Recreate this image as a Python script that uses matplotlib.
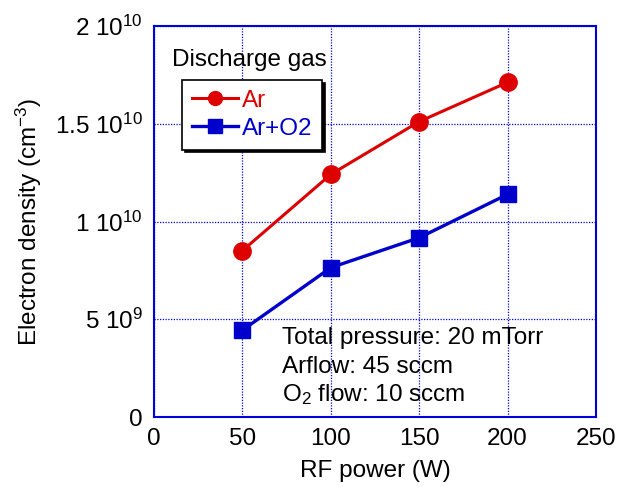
import matplotlib
matplotlib.use("Agg")
import matplotlib.pyplot as plt
from matplotlib.ticker import FixedLocator, FixedFormatter

plt.rcParams['font.family'] = ['Liberation Sans', 'DejaVu Sans']
plt.rcParams['mathtext.fontset'] = 'custom'
plt.rcParams['mathtext.rm'] = 'Liberation Sans'
plt.rcParams['mathtext.it'] = 'Liberation Sans'

power = [50, 100, 150, 200]
ar = [8.51e9, 12.41e9, 15.11e9, 17.12e9]
ar_o2 = [4.44e9, 7.64e9, 9.17e9, 11.39e9]
yticks = [0, 5e9, 1e10, 1.5e10, 2e10]
ytick_labels = ['0', r'5 $\mathregular{10^{9}}$', r'1 $\mathregular{10^{10}}$',
                r'1.5 $\mathregular{10^{10}}$', r'2 $\mathregular{10^{10}}$']
xticks = [0, 50, 100, 150, 200, 250]

FS = 17.5

fig = plt.figure(figsize=(6.28, 4.87), dpi=100)
ax = fig.add_axes([154/628, 1-417/487, (596-154)/628, (417-26)/487])

red = '#dd0000'
blue = '#0000cc'
l1, = ax.plot(power, ar, '-o', color=red, lw=2.2, ms=12.5, label='Ar', zorder=3)
l2, = ax.plot(power, ar_o2, '-s', color=blue, lw=2.4, ms=12, label='Ar+O2', zorder=3)

ax.set_xlim(0, 250)
ax.set_ylim(0, 2e10)
ax.xaxis.set_major_locator(FixedLocator(xticks))
ax.yaxis.set_major_locator(FixedLocator(yticks))
ax.yaxis.set_major_formatter(FixedFormatter(ytick_labels))
ax.tick_params(labelsize=FS, length=0, pad=8, colors='black')
ax.grid(True, color='#0000dd', linestyle=(0, (1, 1.2)), lw=0.9)
for s in ax.spines.values():
    s.set_color('#0000dd')
    s.set_linewidth(1.5)

ax.set_xlabel('RF power (W)', fontsize=FS, labelpad=7)
ax.set_ylabel(r'Electron density (cm$\mathregular{^{-3}}$)', fontsize=FS, labelpad=8)

leg = ax.legend(handles=[l1, l2], loc='upper left', bbox_to_anchor=(28/442, 1-54/391),
                fontsize=FS, frameon=True, fancybox=False, shadow={'color': 'black', 'alpha': 1},
                borderpad=0.4, handlelength=1.9, handletextpad=0.15, labelspacing=0.25,
                borderaxespad=0, markerscale=0.8)
leg.get_frame().set_edgecolor('black')
leg.get_frame().set_linewidth(1.2)
for t, c in zip(leg.get_texts(), [red, blue]):
    t.set_color(c)

ax.text(18/442, 1-(60-26)/391, 'Discharge gas', transform=ax.transAxes, fontsize=FS,
        va='center', ha='left')

ax.text(128/442, 1-(338-26)/391, 'Total pressure: 20 mTorr', transform=ax.transAxes,
        fontsize=FS, va='center', ha='left')
ax.text(128/442, 1-(367-26)/391, 'Arflow: 45 sccm', transform=ax.transAxes,
        fontsize=FS, va='center', ha='left')
ax.text(128/442, 1-(395-26)/391, r'O$_{\mathregular{2}}$ flow: 10 sccm', transform=ax.transAxes,
        fontsize=FS, va='center', ha='left')

fig.savefig('out.png', dpi=100)
